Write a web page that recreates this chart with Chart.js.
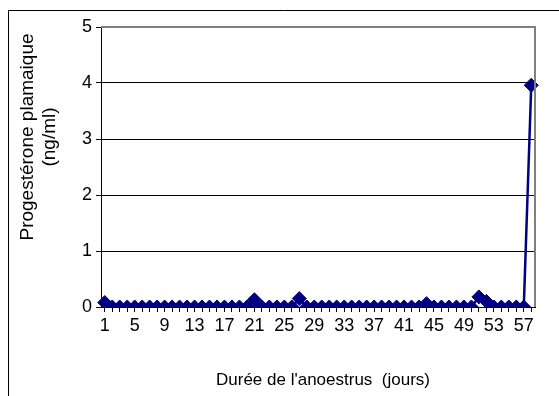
<!DOCTYPE html>
<html>
<head>
<meta charset="utf-8">
<script src="https://cdn.jsdelivr.net/npm/chart.js@4/dist/chart.umd.min.js"></script>
<style>
  html, body { margin: 0; padding: 0; background: #ffffff; }
  #wrap { width: 559px; height: 396px; position: relative; }
</style>
</head>
<body>
<div id="wrap"><canvas id="c" width="559" height="396"></canvas></div>
<script>
// Days of anoestrus (category axis)
const days = [];
for (let d = 1; d <= 58; d++) days.push(String(d));

// Plasma progesterone, ng/ml, one reading per day
const progesterone = [
  0.08, 0, 0, 0, 0, 0, 0, 0, 0, 0,
  0, 0, 0, 0, 0, 0, 0, 0, 0, 0,
  0.13, 0, 0, 0, 0, 0, 0.15, 0, 0, 0,
  0, 0, 0, 0, 0, 0, 0, 0, 0, 0,
  0, 0, 0, 0.06, 0, 0, 0, 0, 0, 0,
  0.18, 0.1, 0, 0, 0, 0, 0, 3.96
];

const yTitleLines = ['Progestérone plamaique', '(ng/ml)'];
const xTitle = "Durée de l'anoestrus  (jours)";

const FONT = '"Liberation Sans", Arial, sans-serif';

// Frame, plot border and axis titles
const decor = {
  id: 'decor',
  beforeDraw(chart) {
    const ctx = chart.ctx;
    ctx.save();
    ctx.fillStyle = '#ffffff';
    ctx.fillRect(0, 0, chart.width, chart.height);
    ctx.restore();
  },
  afterDraw(chart) {
    const ctx = chart.ctx;
    const a = chart.chartArea;
    ctx.save();
    // outer chart frame
    ctx.strokeStyle = '#000000';
    ctx.lineWidth = 1;
    ctx.beginPath();
    ctx.moveTo(8.5, chart.height);
    ctx.lineTo(8.5, 10.5);
    ctx.lineTo(chart.width, 10.5);
    ctx.stroke();
    // plot area border (top and right)
    ctx.strokeStyle = '#808080';
    ctx.lineWidth = 2;
    ctx.beginPath();
    ctx.moveTo(a.left, a.top);
    ctx.lineTo(a.right, a.top);
    ctx.lineTo(a.right, a.bottom);
    ctx.stroke();
    // axis titles
    ctx.fillStyle = '#000000';
    ctx.font = '17px ' + FONT;
    ctx.textAlign = 'center';
    ctx.textBaseline = 'middle';
    ctx.fillText(xTitle, 323, 380);
    ctx.font = '19px ' + FONT;
    ctx.translate(0, 137);
    ctx.rotate(-Math.PI / 2);
    ctx.fillText(yTitleLines[0], 0, 28);
    ctx.fillText(yTitleLines[1], 0, 50);
    ctx.restore();
  }
};

new Chart(document.getElementById('c'), {
  type: 'line',
  data: {
    labels: days,
    datasets: [{
      data: progesterone,
      borderColor: '#000080',
      backgroundColor: '#000080',
      borderWidth: 2.5,
      pointStyle: 'rectRot',
      pointRadius: 7,
      pointBorderWidth: 1,
      pointBorderColor: '#000080',
      pointBackgroundColor: '#000080',
      tension: 0
    }]
  },
  options: {
    responsive: false,
    animation: false,
    devicePixelRatio: 1,
    layout: { padding: { top: 27, right: 24, left: 0, bottom: 0 } },
    plugins: { legend: { display: false }, tooltip: { enabled: false } },
    scales: {
      x: {
        type: 'category',
        offset: true,
        afterFit(scale) { scale.height = 89; },
        grid: { display: true, drawOnChartArea: false, drawTicks: true, tickLength: 5, color: '#000000', offset: false },
        border: { display: true, color: '#000000', width: 1 },
        ticks: {
          autoSkip: false,
          maxRotation: 0,
          minRotation: 0,
          padding: 3,
          color: '#000000',
          font: { size: 18, family: FONT },
          callback(value, index) { return index % 4 === 0 ? days[index] : ''; }
        }
      },
      y: {
        min: 0,
        max: 5,
        afterFit(scale) { scale.width = 101; },
        grid: { color: '#000000', lineWidth: 1, tickLength: 5 },
        border: { display: true, color: '#000000', width: 1 },
        ticks: {
          stepSize: 1,
          padding: 4,
          color: '#000000',
          font: { size: 18, family: FONT }
        }
      }
    }
  },
  plugins: [decor]
});
</script>
</body>
</html>
